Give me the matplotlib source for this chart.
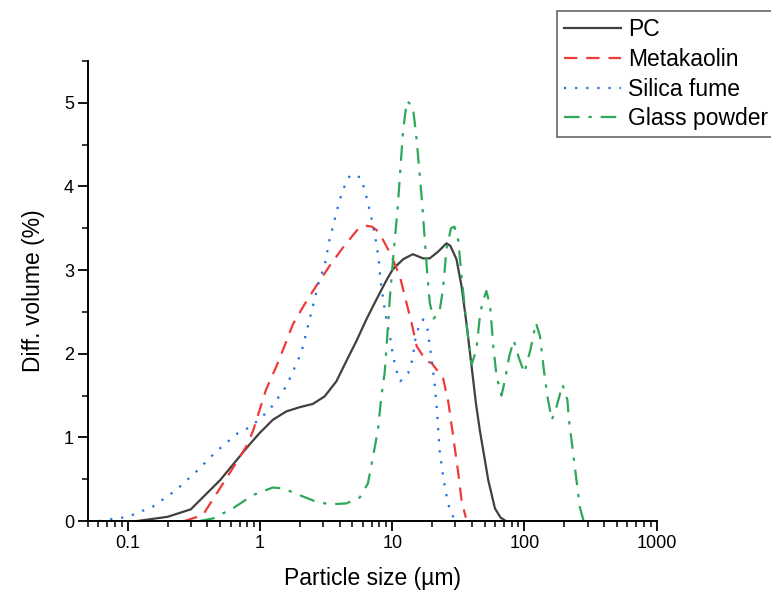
import matplotlib
matplotlib.use("Agg")
import matplotlib.pyplot as plt
from matplotlib.ticker import LogLocator, FixedLocator, MultipleLocator, NullFormatter

plt.rcParams['font.family'] = ['Liberation Sans', 'DejaVu Sans']

# ---- data ----
pc_x = [0.118, 0.2, 0.3, 0.5, 0.7, 0.808, 0.99, 1.25, 1.58, 1.99, 2.51, 3.08, 3.78, 4.49,
        5.35, 6.37, 7.6, 9.05, 10.1, 12.1, 14.3, 17.1, 19.2, 22.2, 25.7, 27.5, 30.6, 33.4,
        36.5, 39.8, 43.0, 46.0, 53.2, 59.8, 66.0, 72.4]
pc_y = [0.0, 0.05, 0.14, 0.49, 0.77, 0.89, 1.05, 1.21, 1.31, 1.36, 1.40, 1.49, 1.67, 1.91,
        2.15, 2.41, 2.65, 2.88, 3.01, 3.13, 3.19, 3.14, 3.14, 3.22, 3.32, 3.29, 3.13, 2.81,
        2.35, 1.85, 1.40, 1.08, 0.49, 0.15, 0.04, 0.0]

mk_x = [0.268, 0.369, 0.588, 0.786, 0.882, 1.11, 1.33, 1.53, 1.77, 2.17, 2.66, 3.36, 4.24,
        5.5, 6.3, 7.0, 7.6, 8.27, 9.57, 11.4, 12.8, 14.0, 15.3, 18.1, 19.8, 24.2, 26.5, 28.9,
        31.6, 33.4, 36.0]
mk_y = [0.0, 0.07, 0.57, 0.89, 1.07, 1.57, 1.85, 2.09, 2.35, 2.59, 2.81, 3.05, 3.27,
        3.49, 3.53, 3.52, 3.48, 3.40, 3.21, 2.93, 2.61, 2.37, 2.09, 1.91, 1.89, 1.71, 1.43, 1.01,
        0.57, 0.25, 0.04]

sf_x = [0.0607, 0.1, 0.154, 0.232, 0.329, 0.466, 0.679, 0.857, 1.18, 1.58, 2.05, 2.51, 2.82,
        3.08, 3.36, 3.56, 3.78, 4.05, 4.37, 4.82, 5.74, 6.19, 6.56, 6.96, 7.25, 7.6, 7.9, 8.15,
        8.93, 9.75, 10.1, 10.7, 11.5, 13.2, 14.2, 15.2, 17.1, 18.5, 19.7, 20.9, 21.8, 22.9,
        24.6, 25.7, 27.2, 29.8]
sf_y = [0.0, 0.05, 0.17, 0.37, 0.59, 0.83, 1.05, 1.13, 1.33, 1.61, 2.01, 2.57, 2.89,
        3.05, 3.37, 3.52, 3.69, 3.86, 4.01, 4.14, 4.11, 3.96, 3.80, 3.62, 3.48, 3.31, 3.13, 2.87,
        2.45, 2.15, 1.99, 1.81, 1.67, 1.77, 1.93, 2.25, 2.41, 2.29, 1.97, 1.65, 1.31, 0.81,
        0.47, 0.31, 0.13, 0.01]

gp_x = [0.348, 0.439, 0.622, 0.882, 1.25, 1.49, 1.99, 2.66, 3.36, 4.49, 5.67, 6.55, 7.15, 7.8,
        8.27, 8.76, 9.13, 9.57, 10.3, 11.0, 11.6, 12.1, 12.9, 14.3, 15.2, 16.1, 16.9, 17.6,
        18.3, 19.2, 20.5, 22.7, 24.2, 25.7, 27.8, 29.5, 31.6, 33.4, 36.5, 39.8, 43.3, 46.0,
        48.1, 51.5, 55.0, 58.1, 61.5, 67.0, 71.3, 76.7, 83.0, 89.9, 99.6, 111, 122, 131, 140,
        149, 161, 175, 194, 211, 217, 242, 262, 279]
gp_y = [0.0, 0.03, 0.15, 0.31, 0.40, 0.39, 0.31, 0.23, 0.20, 0.21, 0.28, 0.45, 0.77, 1.09,
        1.49, 1.77, 2.17, 2.65, 3.25, 3.75, 4.28, 4.68, 5.02, 4.96, 4.60, 4.16, 3.76, 3.37,
        3.01, 2.61, 2.42, 2.49, 2.77, 3.25, 3.50, 3.52, 3.35, 2.93, 2.35, 1.87, 2.05, 2.45,
        2.61, 2.75, 2.57, 2.09, 1.73, 1.50, 1.69, 1.97, 2.16, 1.97, 1.77, 2.05, 2.37, 2.21, 1.81,
        1.49, 1.21, 1.37, 1.63, 1.45, 1.21, 0.61, 0.17, 0.01]

labels = ["PC", "Metakaolin", "Silica fume", "Glass powder"]
x_ticks = [0.1, 1, 10, 100, 1000]
x_tick_labels = ["0.1", "1", "10", "100", "1000"]
y_ticks = [0, 1, 2, 3, 4, 5]

# ---- figure ----
fig = plt.figure(figsize=(7.71, 5.97), dpi=100)
ax = fig.add_axes([88/771, 1 - 521/597, (656.7 - 88)/771, (521 - 61)/597])

ax.plot(pc_x, pc_y, color='#404040', lw=1.6, ls='-', label=labels[0])
ax.plot(mk_x, mk_y, color='#F03A3A', lw=1.6, ls=(0, (6, 4)), label=labels[1])
ax.plot(sf_x, sf_y, color='#1F6FE5', lw=1.6, ls=(0, (1, 4)), label=labels[2])
ax.plot(gp_x, gp_y, color='#2DA85B', lw=1.6, ls=(0, (7, 4, 1.5, 4)), label=labels[3])

ax.set_xscale('log')
ax.set_xlim(0.05, 1000)
ax.set_ylim(0, 5.5)

ax.xaxis.set_major_locator(FixedLocator(x_ticks))
ax.set_xticklabels(x_tick_labels)
ax.xaxis.set_minor_locator(LogLocator(base=10, subs=[2, 3, 4, 5, 6, 7, 8, 9], numticks=20))
ax.xaxis.set_minor_formatter(NullFormatter())
ax.yaxis.set_major_locator(FixedLocator(y_ticks))
ax.yaxis.set_minor_locator(MultipleLocator(0.5))

for s in ['top', 'right']:
    ax.spines[s].set_visible(False)
for s in ['left', 'bottom']:
    ax.spines[s].set_linewidth(1.4)
    ax.spines[s].set_color('black')

ax.tick_params(which='major', direction='out', length=7, width=1.3, labelsize=13, pad=3)
ax.tick_params(which='minor', direction='out', length=4.5, width=1.1)

ax.set_xlabel("Particle size (µm)", fontsize=16.5, labelpad=11)
ax.set_ylabel("Diff. volume (%)", fontsize=16.5, labelpad=14)

leg = ax.legend(loc='upper left', bbox_to_anchor=(557/771, 1 - 11/597),
                bbox_transform=fig.transFigure, fontsize=16.5, frameon=True,
                fancybox=False, edgecolor='#404040', handlelength=2.5,
                handletextpad=0.3, labelspacing=0.3, borderpad=0.3, borderaxespad=0)
leg.get_frame().set_linewidth(1.2)

fig.savefig("out.png", dpi=100)
